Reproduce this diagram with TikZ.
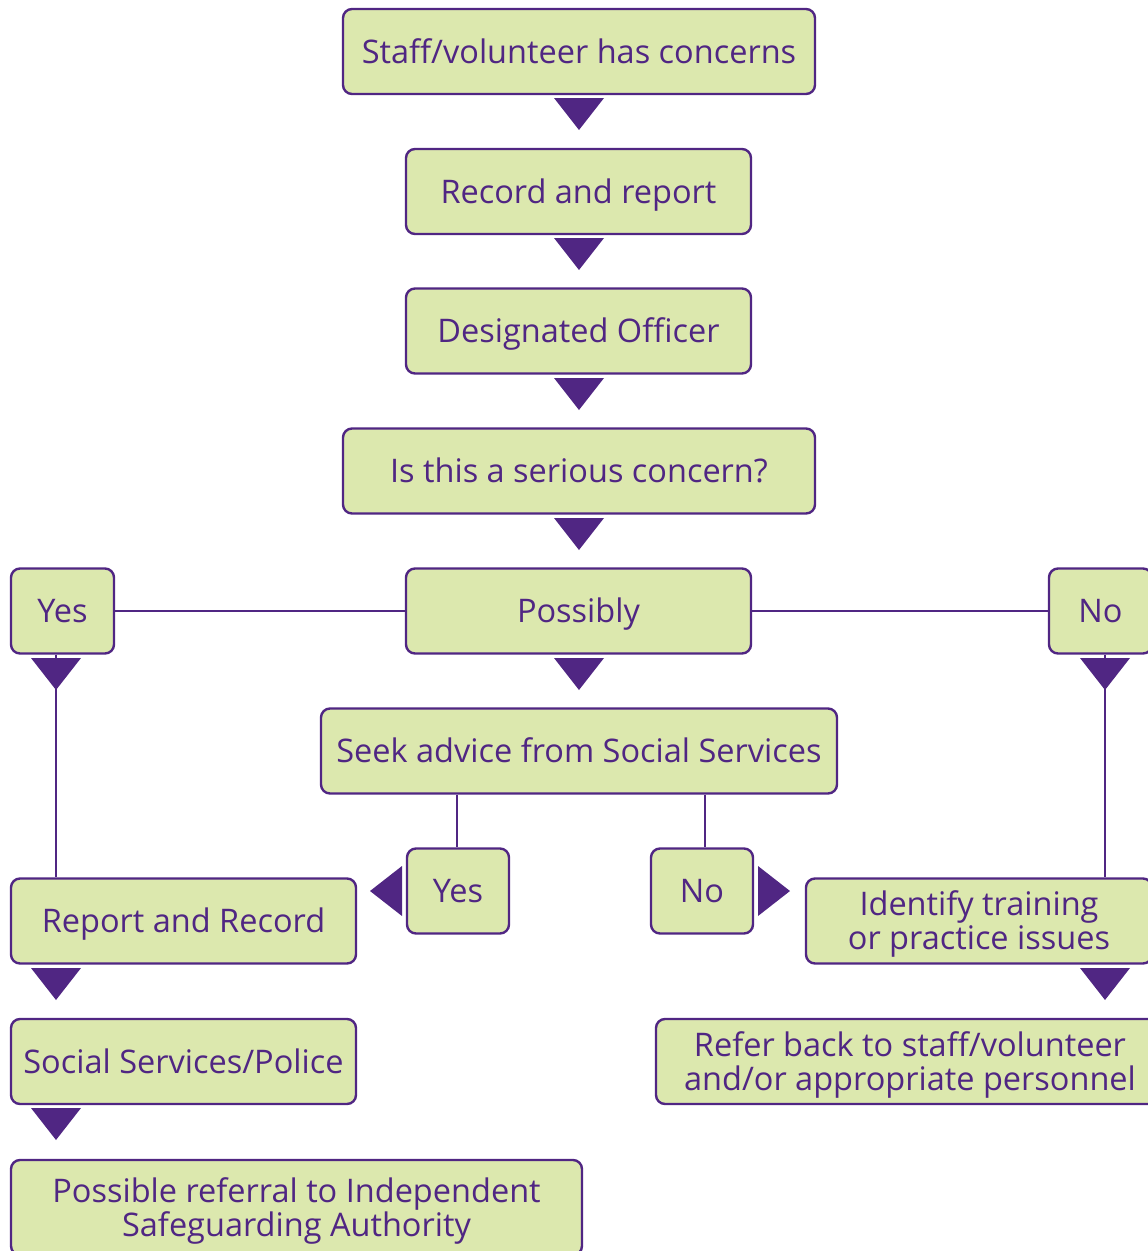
\documentclass[tikz,border=0pt]{standalone}
\usepackage{fontspec}
\setmainfont{Open Sans}
\definecolor{pur}{RGB}{80,38,131}
\definecolor{grn}{RGB}{220,232,174}
\tikzset{
  box/.style={draw=pur, line width=2.4pt, fill=grn, rounded corners=9pt, text=pur,
    font=\fontsize{32.5}{34}\selectfont, inner sep=0pt, text height=23pt, text depth=0pt,
    align=center, minimum height=85pt},
  twoline/.style={text height=57pt, text depth=0pt},
  conn/.style={draw=pur, line width=2pt},
  dtri/.pic={\fill[pur] (-25,0) -- (25,0) -- (0,32) -- cycle;},
  ltri/.pic={\fill[pur] (0,-25) -- (0,25) -- (-32,0) -- cycle;},
  rtri/.pic={\fill[pur] (0,-25) -- (0,25) -- (32,0) -- cycle;},
}
\begin{document}
\begin{tikzpicture}[x=1pt,y=-1pt]
\useasboundingbox (0,0) rectangle (1148,1251);
\clip (0,0) rectangle (1148,1251);
\node[box, minimum width=472pt] (staff) at (579,51.5) {Staff/volunteer has concerns};
\node[box, minimum width=345pt] (rec) at (578.5,191.5) {Record and report};
\node[box, minimum width=345pt] (des) at (578.5,331) {Designated Officer};
\node[box, minimum width=472pt] (ser) at (579,471) {Is this a serious concern?};
\node[box, minimum width=345pt] (pos) at (578.5,611) {Possibly};
\node[box, minimum width=103pt] (yesL) at (62.5,611) {Yes};
\node[box, minimum width=103pt] (noR) at (1100.5,611) {No};
\node[box, minimum width=516pt] (seek) at (579,751) {Seek advice from Social Services};
\node[box, minimum width=102pt] (yesM) at (458,891) {Yes};
\node[box, minimum width=102pt] (noM) at (702,891) {No};
\node[box, minimum width=345pt] (rr) at (183.5,921) {Report and Record};
\node[box, twoline, minimum width=346pt] (idt) at (979,921) {Identify training\\or practice issues};
\node[box, minimum width=345pt] (ssp) at (183.5,1061.5) {Social Services/Police};
\node[box, twoline, minimum width=508pt] (ref) at (910,1061.5) {Refer back to staff/volunteer\\and/or appropriate personnel};
\node[box, twoline, minimum width=571pt, minimum height=95pt] (isa) at (296.5,1207.5) {Possible referral to Independent\\Safeguarding Authority};
% connectors
\draw[conn] (yesL) -- (pos);
\draw[conn] (pos) -- (noR);
\draw[conn] ([xshift=-6.5pt]yesL.south) -- ([xshift=-6.5pt]yesL.south |- rr.north);
\draw[conn] ([xshift=4.5pt]noR.south) -- ([xshift=4.5pt]noR.south |- idt.north);
\draw[conn] ([xshift=-122pt]seek.south) -- ([xshift=-122pt]seek.south |- yesM.north);
\draw[conn] ([xshift=126pt]seek.south) -- ([xshift=126pt]seek.south |- noM.north);
% triangles
\pic at (579,98) {dtri};
\pic at (579,238) {dtri};
\pic at (579,378) {dtri};
\pic at (579,518) {dtri};
\pic at (579,658) {dtri};
\pic at (56,658) {dtri};
\pic at (1105,658) {dtri};
\pic at (56,968) {dtri};
\pic at (56,1108) {dtri};
\pic at (1105,968) {dtri};
\pic at (402,891) {ltri};
\pic at (758,891) {rtri};
\end{tikzpicture}
\end{document}
